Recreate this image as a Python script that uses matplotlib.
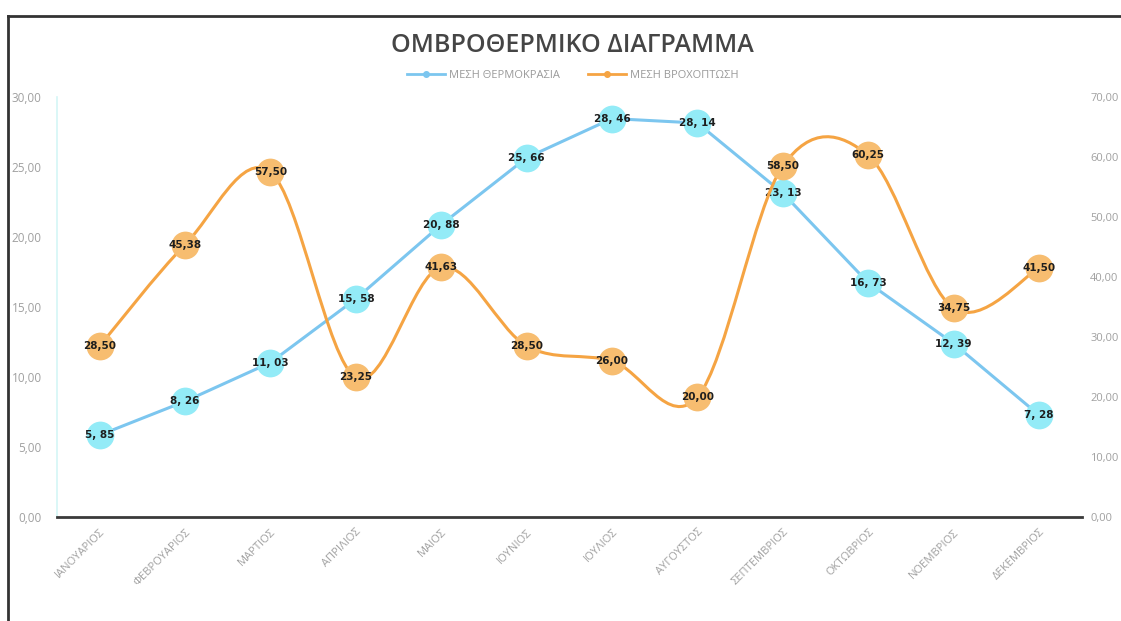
import matplotlib.pyplot as plt
from matplotlib.path import Path
from matplotlib.patches import PathPatch
from matplotlib.lines import Line2D

months = ['ΙΑΝΟΥΑΡΙΟΣ', 'ΦΕΒΡΟΥΑΡΙΟΣ', 'ΜΑΡΤΙΟΣ', 'ΑΠΡΙΛΙΟΣ', 'ΜΑΙΟΣ', 'ΙΟΥΝΙΟΣ',
          'ΙΟΥΛΙΟΣ', 'ΑΥΓΟΥΣΤΟΣ', 'ΣΕΠΤΕΜΒΡΙΟΣ', 'ΟΚΤΩΒΡΙΟΣ', 'ΝΟΕΜΒΡΙΟΣ', 'ΔΕΚΕΜΒΡΙΟΣ']
temperature = [5.85, 8.26, 11.03, 15.58, 20.88, 25.66, 28.46, 28.14, 23.13, 16.73, 12.39, 7.28]
rainfall = [28.50, 45.38, 57.50, 23.25, 41.63, 28.50, 26.00, 20.00, 58.50, 60.25, 34.75, 41.50]

temp_line = '#7cc6ef'
temp_marker = '#93ebf7'
rain_line = '#f5a443'
rain_marker = '#f7bd70'
tick_grey = '#a0a0a0'

plt.rcParams['font.family'] = ['Open Sans', 'DejaVu Sans']

fig = plt.figure(figsize=(11.21, 6.21), dpi=100)
ax = fig.add_axes([0.0508, 0.1675, 0.9142, 0.6763])
ax2 = ax.twinx()

x = list(range(len(months)))

# temperature: straight segments, left axis
ax.plot(x, temperature, color=temp_line, lw=2.2, zorder=2)
ax.plot(x, temperature, 'o', color=temp_marker, ms=20, mec='none', zorder=3)
for xi, v in zip(x, temperature):
    ax.text(xi, v, f'{v:.2f}'.replace('.', ', '), ha='center', va='center',
            fontsize=7.5, fontweight='bold', color='#1e1e1e', family='DejaVu Sans', zorder=4)

# rainfall: smoothed bezier curve, right axis
pts = list(zip(x, rainfall))
verts = [pts[0]]
codes = [Path.MOVETO]
for i in range(len(pts) - 1):
    p0 = pts[i - 1] if i > 0 else pts[i]
    p1, p2 = pts[i], pts[i + 1]
    p3 = pts[i + 2] if i + 2 < len(pts) else pts[i + 1]
    c1 = (p1[0] + (p2[0] - p0[0]) / 6, p1[1] + (p2[1] - p0[1]) / 6)
    c2 = (p2[0] - (p3[0] - p1[0]) / 6, p2[1] - (p3[1] - p1[1]) / 6)
    verts += [c1, c2, p2]
    codes += [Path.CURVE4] * 3
ax2.add_patch(PathPatch(Path(verts, codes), fill=False, ec=rain_line, lw=2.2, zorder=2))
ax2.plot(x, rainfall, 'o', color=rain_marker, ms=20, mec='none', zorder=3)
for xi, v in zip(x, rainfall):
    ax2.text(xi, v, f'{v:.2f}'.replace('.', ','), ha='center', va='center',
             fontsize=7.5, fontweight='bold', color='#1e1e1e', family='DejaVu Sans', zorder=4)

ax.set_xlim(-0.5, 11.5)
ax.set_ylim(0, 30)
ax2.set_ylim(0, 70)
ax.set_yticks(range(0, 31, 5))
ax.set_yticklabels([f'{t},00' for t in range(0, 31, 5)])
ax2.set_yticks(range(0, 71, 10))
ax2.set_yticklabels([f'{t},00' for t in range(0, 71, 10)])
ax.set_xticks(x)
ax.set_xticklabels(months, rotation=45, ha='right', rotation_mode='anchor')

for a in (ax, ax2):
    a.tick_params(length=0, labelsize=8.5, labelcolor=tick_grey)
    for s in a.spines.values():
        s.set_visible(False)
ax.tick_params(axis='x', labelsize=8, pad=7)
ax.tick_params(axis='y', pad=11)
ax2.tick_params(axis='y', labelsize=8, pad=6)
ax.spines['left'].set_visible(True)
ax.spines['left'].set_color('#d4f6f6')
ax.spines['left'].set_linewidth(1.2)
ax.spines['bottom'].set_visible(True)
ax.spines['bottom'].set_color('#3a3a3a')
ax.spines['bottom'].set_linewidth(2)

fig.text(0.511, 0.927, 'ΟΜΒΡΟΘΕΡΜΙΚΟ ΔΙΑΓΡΑΜΜΑ', ha='center', va='center',
         fontsize=18, fontweight='semibold', color='#454545')

handles = [
    Line2D([], [], color=temp_line, lw=2, marker='o', ms=4, mfc=temp_line, mec=temp_line),
    Line2D([], [], color=rain_line, lw=2, marker='o', ms=4, mfc=rain_line, mec=rain_line),
]
fig.legend(handles, ['ΜΕΣΗ ΘΕΡΜΟΚΡΑΣΙΑ', 'ΜΕΣΗ ΒΡΟΧΟΠΤΩΣΗ'], loc='center',
           bbox_to_anchor=(0.511, 0.879), ncol=2, frameon=False, fontsize=8,
           labelcolor='#9a9a9a', handlelength=3.4, columnspacing=2.5, handletextpad=0.4)

# frame lines along the top and left
fig.add_artist(Line2D([0.0071, 1.0], [0.974, 0.974], color='#333333', lw=2))
fig.add_artist(Line2D([0.0071, 0.0071], [0.0, 0.974], color='#333333', lw=2))

fig.savefig('out.png', dpi=100, facecolor='white')
